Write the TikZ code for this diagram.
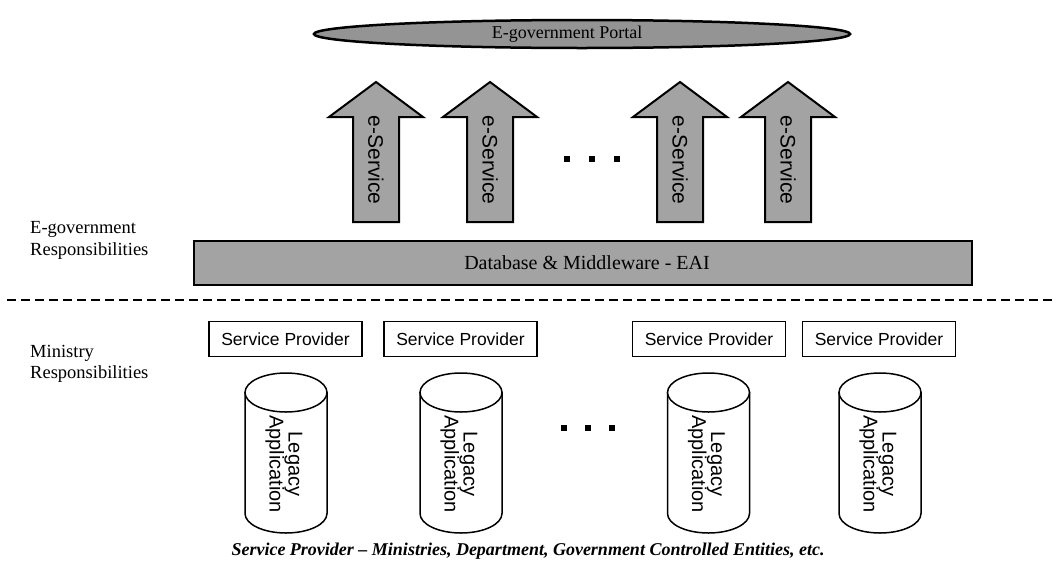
\documentclass[tikz,border=0pt]{standalone}
\usepackage{fontspec}
\setmainfont{Liberation Serif}
\newfontfamily\arialfont{Liberation Sans}
\begin{document}
\begin{tikzpicture}[x=1pt,y=-1pt,
  texture/.style={fill=black!36},
  arrowbox/.style={draw=black,line width=2pt,texture,line join=miter},
  sptext/.style={font=\arialfont\fontsize{17.5}{19}\selectfont},
  spbox/.style={draw=black,line width=1.5pt,fill=white,minimum width=153pt,minimum height=35pt,inner sep=0pt,sptext},
  cylbody/.style={draw=black,line width=1.5pt,fill=white},
  sidelabel/.style={anchor=base west,inner sep=0pt,font=\fontsize{18.5}{20}\selectfont},
  esvc/.style={rotate=-90,inner sep=0pt,font=\arialfont\fontsize{21}{23}\selectfont},
  legacy/.style={rotate=-90,align=center,inner sep=0pt,font=\arialfont\fontsize{20}{19}\selectfont}]
\useasboundingbox (0,0) rectangle (1057,568);

% portal
\draw[line width=2.5pt,fill=black!42] (582,34) ellipse [x radius=268pt, y radius=14pt];
\node[inner sep=0pt,font=\fontsize{18}{20}\selectfont] (portal) at (567,34) {E-government Portal};

% e-service arrows
\foreach \x/\n in {376/a,490/b,680/c,788/d}{
  \draw[arrowbox] (\x-23,222) -- (\x-23,117) -- (\x-47,117) -- (\x,82) -- (\x+47,117) -- (\x+23,117) -- (\x+23,222) -- cycle;
  \node[esvc] (es\n) at (\x,160) {e-Service};
}
\foreach \x/\n in {567/1,592/2,617/3}{
  \node[fill=black,minimum size=6pt,inner sep=0pt] (dt\n) at (\x,159) {};
}

% EAI bar
\draw[line width=2pt,texture] (194,241) rectangle (972,285);
\node[inner sep=0pt,font=\fontsize{20}{22}\selectfont] (eai) at (587,263) {Database \& Middleware - EAI};

% divider
\draw[line width=2pt,dash pattern=on 9pt off 5pt] (7,300) -- (1057,300);

% side labels
\node[sidelabel] (eg1) at (30,233) {E-government};
\node[sidelabel] (eg2) at (30,255) {Responsibilities};
\node[sidelabel] (mr1) at (30,357) {Ministry};
\node[sidelabel] (mr2) at (30,378) {Responsibilities};

% service providers
\node[spbox] (sp1) at (285.5,339) {Service Provider};
\node[spbox] (sp2) at (460.5,339) {Service Provider};
\node[spbox] (sp3) at (709,339) {Service Provider};
\node[spbox] (sp4) at (879,339) {Service Provider};

% cylinders
\foreach \x/\n in {286/1,461/2,708.5/3,880/4}{
  \draw[cylbody] (\x-41,392.5) -- (\x-41,513.5) arc[start angle=180,end angle=360,x radius=41pt,y radius=19.5pt] -- (\x+41,392.5) -- cycle;
  \draw[cylbody] (\x,392.5) ellipse [x radius=41pt, y radius=19.5pt];
  \node[legacy] (la\n) at (\x-2,464) {Legacy\\Application};
}
\foreach \x/\n in {564/1,588/2,612/3}{
  \node[fill=black,minimum size=6pt,inner sep=0pt] (dc\n) at (\x,428) {};
}

% caption
\node[inner sep=0pt,font=\bfseries\itshape\fontsize{18}{20}\selectfont] (cap) at (528,551) {Service Provider -- Ministries, Department, Government Controlled Entities, etc.};
\end{tikzpicture}
\end{document}
